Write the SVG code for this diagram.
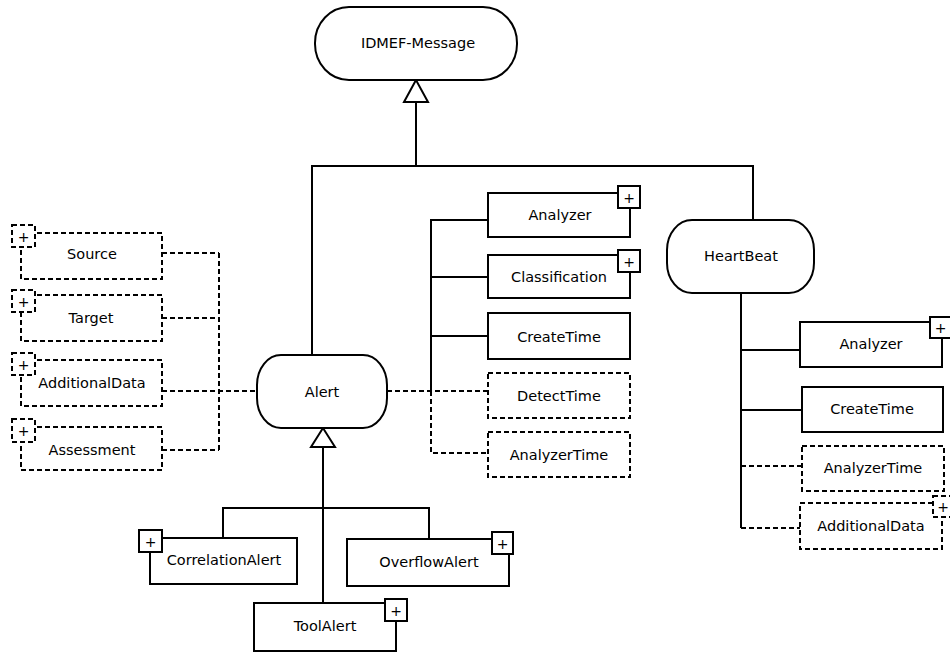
<svg xmlns="http://www.w3.org/2000/svg" width="950" height="652" viewBox="0 0 950 652">
<style>
.b{fill:#fff;stroke:#000;stroke-width:2}
.d{fill:#fff;stroke:#000;stroke-width:2;stroke-dasharray:5,3}
.l{fill:none;stroke:#000;stroke-width:2}
.dl{fill:none;stroke:#000;stroke-width:2;stroke-dasharray:5,3}
text{font-family:"DejaVu Sans",sans-serif;font-size:14.5px;text-anchor:middle;fill:#000}
.p{font-size:14px}
</style>
<rect width="950" height="652" fill="#fff"/>
<g id="connectors">
<path class="l" d="M416,102 V166 M312,355 V166 H753 V220"/>
<polygon class="b" points="416,80 404,102 428,102"/>
<path class="l" d="M323,447 V603 M223,538 V508 H429 V539"/>
<polygon class="b" points="323,428 311,447 335,447"/>
<path class="dl" d="M162,253 H219 M162,318 H219 M162,391 H257 M162,450 H219 M219,253 V450"/>
<path class="l" d="M431,391 V220 H488 M431,277 H488 M431,336 H488"/>
<path class="dl" d="M387,391 H488 M431,391 V453 H488"/>
<path class="l" d="M741,293 V528 M741,350 H800 M741,410 H802"/>
<path class="dl" d="M741,466 H802 M741,528 H800"/>
</g>
<g id="idmef-message"><rect class="b" x="315" y="7" width="202" height="73" rx="34" ry="36"/><text x="418" y="48">IDMEF-Message</text></g>
<g id="alert"><rect class="b" x="257" y="355" width="130" height="73" rx="24" ry="30"/><text x="322" y="397">Alert</text></g>
<g id="heartbeat"><rect class="b" x="667" y="220" width="147" height="73" rx="25" ry="30"/><text x="741" y="261">HeartBeat</text></g>
<g id="source"><rect class="d" x="21" y="233" width="141" height="46"/><rect class="d" x="12" y="225" width="23" height="22"/><text x="23.5" y="242" class="p">+</text><text x="92" y="259">Source</text></g>
<g id="target"><rect class="d" x="21" y="295" width="141" height="46"/><rect class="d" x="12" y="290" width="23" height="22"/><text x="23.5" y="307" class="p">+</text><text x="91" y="323">Target</text></g>
<g id="additionaldata-alert"><rect class="d" x="21" y="360" width="141" height="46"/><rect class="d" x="12" y="353" width="23" height="22"/><text x="23.5" y="370" class="p">+</text><text x="92" y="388">AdditionalData</text></g>
<g id="assessment"><rect class="d" x="21" y="427" width="141" height="43"/><rect class="d" x="12" y="419" width="23" height="23"/><text x="23.5" y="436" class="p">+</text><text x="92" y="455">Assessment</text></g>
<g id="analyzer-alert"><rect class="b" x="488" y="193" width="142" height="44"/><rect class="b" x="618" y="186" width="22" height="22"/><text x="629" y="203" class="p">+</text><text x="560" y="220">Analyzer</text></g>
<g id="classification"><rect class="b" x="488" y="255" width="142" height="43"/><rect class="b" x="618" y="250" width="22" height="22"/><text x="629" y="267" class="p">+</text><text x="559" y="282">Classification</text></g>
<g id="createtime-alert"><rect class="b" x="488" y="313" width="142" height="46"/><text x="559" y="342">CreateTime</text></g>
<g id="detecttime"><rect class="d" x="488" y="373" width="142" height="45"/><text x="559" y="401">DetectTime</text></g>
<g id="analyzertime-alert"><rect class="d" x="488" y="432" width="142" height="45"/><text x="559" y="460">AnalyzerTime</text></g>
<g id="analyzer-hb"><rect class="b" x="800" y="322" width="142" height="45"/><rect class="b" x="930" y="317" width="21" height="21"/><text x="940.5" y="333" class="p">+</text><text x="871" y="349">Analyzer</text></g>
<g id="createtime-hb"><rect class="b" x="802" y="387" width="141" height="45"/><text x="872" y="414">CreateTime</text></g>
<g id="analyzertime-hb"><rect class="d" x="802" y="446" width="142" height="45"/><text x="873" y="473">AnalyzerTime</text></g>
<g id="additionaldata-hb"><rect class="d" x="800" y="503" width="142" height="46"/><rect class="d" x="933" y="496" width="20" height="21"/><text x="943" y="512" class="p">+</text><text x="871" y="531">AdditionalData</text></g>
<g id="correlationalert"><rect class="b" x="150" y="538" width="147" height="46"/><rect class="b" x="139" y="530" width="23" height="22"/><text x="150.5" y="547" class="p">+</text><text x="224" y="565">CorrelationAlert</text></g>
<g id="overflowalert"><rect class="b" x="347" y="539" width="162" height="47"/><rect class="b" x="492" y="532" width="21" height="22"/><text x="502.5" y="549" class="p">+</text><text x="429" y="567">OverflowAlert</text></g>
<g id="toolalert"><rect class="b" x="254" y="603" width="142" height="48"/><rect class="b" x="385" y="599" width="22" height="22"/><text x="396" y="616" class="p">+</text><text x="325" y="631">ToolAlert</text></g>
</svg>
